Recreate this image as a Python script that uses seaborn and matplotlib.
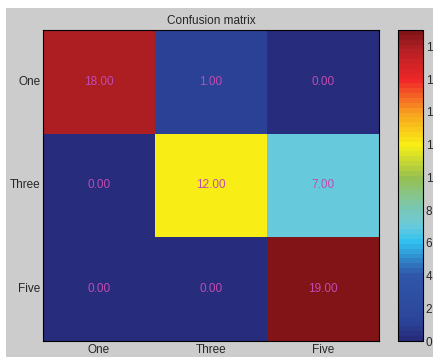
import matplotlib
matplotlib.use("Agg")
import matplotlib.pyplot as plt
import seaborn as sns
import numpy as np
import pandas as pd
from matplotlib.colors import LinearSegmentedColormap
from matplotlib.patches import Rectangle

labels = ["One", "Three", "Five"]
row_one = [18, 1, 0]
row_three = [0, 12, 7]
row_five = [0, 0, 19]
cbar_ticks = [0, 2, 4, 6, 8, 10, 12, 14, 16, 18]

df = pd.DataFrame([row_one, row_three, row_five], index=labels, columns=labels)

nodes = [(0.0, "#282c7c"), (1/19, "#2b4399"), (4/19, "#3058aa"), (6/19, "#30c0f0"),
         (7/19, "#6acbdb"), (8/19, "#78c8b8"), (10/19, "#98c050"), (12/19, "#f8f014"),
         (14/19, "#f8a020"), (16/19, "#f02828"), (18/19, "#b11f24"), (1.0, "#821418")]
cmap = LinearSegmentedColormap.from_list("mjet", nodes, N=64)

sns.set_style("white")
plt.rcParams["font.family"] = ["Liberation Sans", "DejaVu Sans"]

fig = plt.figure(figsize=(4.33, 3.57), dpi=100, facecolor="white")
fig.patches.append(Rectangle((6/433, 0), 1, 1 - 8/357, transform=fig.transFigure,
                             facecolor="#cccccc", edgecolor="none", zorder=-10))
ax = fig.add_axes([43/433, 1 - 341/357, (379-43)/433, (341-30)/357])
cax = fig.add_axes([398/433, 1 - 341/357, (423-398)/433, (341-30)/357])

sns.heatmap(df, ax=ax, cbar_ax=cax, cmap=cmap, vmin=0, vmax=19, annot=True, fmt=".2f",
            annot_kws={"color": "#c04cb0", "fontsize": 8.5}, linewidths=0)

for s in ax.spines.values():
    s.set_visible(True)
    s.set_color("black")
    s.set_linewidth(0.8)
ax.set_title("Confusion matrix", fontsize=8.5, pad=4)
ax.tick_params(axis="both", direction="in", length=3, width=0.6, labelsize=8.5, pad=2,
               top=True, right=True, bottom=True, left=True, color="black")
ax.set_xticklabels(labels, rotation=0)
ax.set_yticklabels(labels, rotation=0)
ax.set_xlabel("")
ax.set_ylabel("")

cb = ax.collections[0].colorbar
cb.set_ticks(cbar_ticks)
cb.outline.set_visible(True)
cb.outline.set_edgecolor("black")
cb.outline.set_linewidth(0.8)
cax.tick_params(direction="in", length=3, width=0.6, labelsize=8.5, pad=2, left=True, right=True, color="black")

fig.savefig("out.png", dpi=100, facecolor=fig.get_facecolor())
